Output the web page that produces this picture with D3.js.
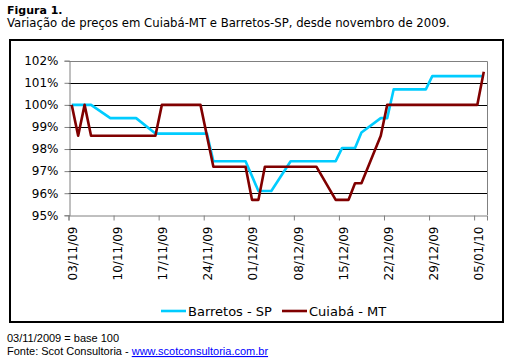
<!DOCTYPE html>
<html>
<head>
<meta charset="utf-8">
<script src="https://cdn.jsdelivr.net/npm/d3@7"></script>
<style>
  body { margin: 0; background: #fff; }
  svg { display: block; }
</style>
</head>
<body>
<div id="chart"></div>
<script>
// Barretos - SP (series drawn first)
const barretosDates = ["03/11/2009", "06/11/2009", "09/11/2009", "13/11/2009", "16/11/2009",
	"24/11/2009", "25/11/2009", "30/11/2009", "02/12/2009", "04/12/2009", "07/12/2009",
	"14/12/2009", "15/12/2009", "17/12/2009", "18/12/2009", "21/12/2009", "22/12/2009",
	"23/12/2009", "28/12/2009", "29/12/2009", "06/01/2010"]
const barretosValues = [100, 100, 99.4, 99.4, 98.7,
	98.7, 97.45, 97.45, 96.1, 96.1, 97.45,
	97.45, 98.05, 98.05, 98.75, 99.4, 99.4,
	100.7, 100.7, 101.3, 101.3]

// Cuiabá - MT
const cuiabaDates = ["03/11/2009", "04/11/2009", "05/11/2009", "06/11/2009", "16/11/2009",
	"17/11/2009", "23/11/2009", "25/11/2009", "30/11/2009", "01/12/2009", "02/12/2009",
	"03/12/2009", "11/12/2009", "14/12/2009", "16/12/2009", "17/12/2009", "18/12/2009",
	"21/12/2009", "22/12/2009", "05/01/2010", "06/01/2010"]
const cuiabaValues = [100, 98.6, 100, 98.6, 98.6,
	100, 100, 97.2, 97.2, 95.7, 95.7,
	97.2, 97.2, 95.7, 95.7, 96.45, 96.45,
	98.6, 100, 100, 101.5]

const xTickLabels = ["03/11/09", "10/11/09", "17/11/09", "24/11/09", "01/12/09",
	"08/12/09", "15/12/09", "22/12/09", "29/12/09", "05/01/10"]
const yTicks = [95, 96, 97, 98, 99, 100, 101, 102]
const xStart = "03/11/2009", xEnd = "07/01/2010"

const seriesNames = ["Barretos - SP", "Cuiabá - MT"]
const seriesColors = ["#00ccff", "#800000"]

const W = 528, H = 364
const plot = { left: 68.5, right: 487, top: 60.7, bottom: 215.3 }
const fontAxis = "'DejaVu Sans', Verdana, sans-serif"

const parseFull = d3.timeParse("%d/%m/%Y")
const parseShort = d3.timeParse("%d/%m/%y")

const svg = d3.select("#chart")
	.append("svg")
	.attr("width", W)
	.attr("height", H)

// heading above the chart frame
svg.append("text")
	.attr("x", 7)
	.attr("y", 14)
	.attr("font-family", fontAxis)
	.attr("font-weight", "bold")
	.attr("font-size", "11px")
	.text("Figura 1.")

svg.append("text")
	.attr("x", 7)
	.attr("y", 27)
	.attr("font-family", fontAxis)
	.attr("font-size", "11.7px")
	.text("Variação de preços em Cuiabá-MT e Barretos-SP, desde novembro de 2009.")

// chart frame
svg.append("rect")
	.attr("x", 10)
	.attr("y", 40)
	.attr("width", 493)
	.attr("height", 282)
	.attr("fill", "none")
	.attr("stroke", "black")
	.attr("stroke-width", 2)

const x = d3.scaleTime()
	.domain([parseFull(xStart), parseFull(xEnd)])
	.range([plot.left, plot.right])

const y = d3.scaleLinear()
	.domain([d3.min(yTicks), d3.max(yTicks)])
	.range([plot.bottom, plot.top])

// points sit in the middle of their day
const midDay = d => d3.timeHour.offset(d, 12)

// horizontal gridlines
svg.append("g")
	.selectAll("line")
	.data(yTicks.slice(1, -1))
	.join("line")
	.attr("x1", plot.left)
	.attr("x2", plot.right)
	.attr("y1", d => Math.round(y(d)) + 0.5)
	.attr("y2", d => Math.round(y(d)) + 0.5)
	.attr("stroke", "black")
	.attr("stroke-width", 1)

// gray top and right border of plot area
svg.append("path")
	.attr("d", `M${plot.left},${Math.round(plot.top) + 0.5}H${Math.round(plot.right) + 0.5}V${plot.bottom}`)
	.attr("fill", "none")
	.attr("stroke", "#808080")

// y axis
const yAxis = svg.append("g")
	.attr("transform", `translate(${Math.round(plot.left) + 0.5},0)`)
	.call(d3.axisLeft(y).tickValues(yTicks).tickSize(5).tickPadding(6).tickFormat(d => d + "%"))
yAxis.selectAll("path, line").attr("stroke", "#808080")
yAxis.selectAll("text")
	.attr("font-family", fontAxis)
	.attr("font-size", "12px")
	.attr("fill", "black")

// x axis
const xTickValues = xTickLabels.map(parseShort)
const xAxis = svg.append("g")
	.attr("transform", `translate(0,${Math.round(plot.bottom) + 0.5})`)
	.call(d3.axisBottom(x).tickValues(xTickValues).tickSize(5).tickFormat((d, i) => xTickLabels[i]))
xAxis.selectAll("path, line").attr("stroke", "#808080")
xAxis.selectAll("text")
	.attr("font-family", fontAxis)
	.attr("font-size", "12px")
	.attr("fill", "black")
	.attr("text-anchor", "end")
	.attr("dy", "0.35em")
	.attr("y", 0)
	.attr("transform", "translate(4,11) rotate(-90)")

// series lines
const series = [
	{ dates: barretosDates, values: barretosValues },
	{ dates: cuiabaDates, values: cuiabaValues }
]

const line = d3.line()
	.x(d => x(midDay(d[0])))
	.y(d => y(d[1]))

series.forEach(function (s, i) {
	const pts = s.dates.map((d, j) => [parseFull(d), s.values[j]])
	svg.append("path")
		.datum(pts)
		.attr("d", line)
		.attr("fill", "none")
		.attr("stroke", seriesColors[i])
		.attr("stroke-width", 2.6)
		.attr("stroke-linejoin", "round")
})

// legend
const legendX = [161, 282]
const legend = svg.append("g")
	.selectAll("g")
	.data(seriesNames)
	.join("g")
	.attr("transform", (d, i) => `translate(${legendX[i]},311)`)

legend.append("line")
	.attr("x1", 0)
	.attr("x2", 25)
	.attr("stroke", (d, i) => seriesColors[i])
	.attr("stroke-width", 2.6)

legend.append("text")
	.attr("x", 27)
	.attr("dy", "0.35em")
	.attr("font-family", fontAxis)
	.attr("font-size", "13px")
	.text(d => d)

// footer notes
const fontNote = "'Liberation Sans', Arial, sans-serif"
svg.append("text")
	.attr("x", 7)
	.attr("y", 342)
	.attr("font-family", fontNote)
	.attr("font-size", "11px")
	.text("03/11/2009 = base 100")

const source = svg.append("text")
	.attr("x", 7)
	.attr("y", 355)
	.attr("font-family", fontNote)
	.attr("font-size", "11px")
source.append("tspan").text("Fonte: Scot Consultoria - ")
source.append("tspan")
	.attr("fill", "#0000ff")
	.attr("text-decoration", "underline")
	.text("www.scotconsultoria.com.br")
</script>
</body>
</html>
